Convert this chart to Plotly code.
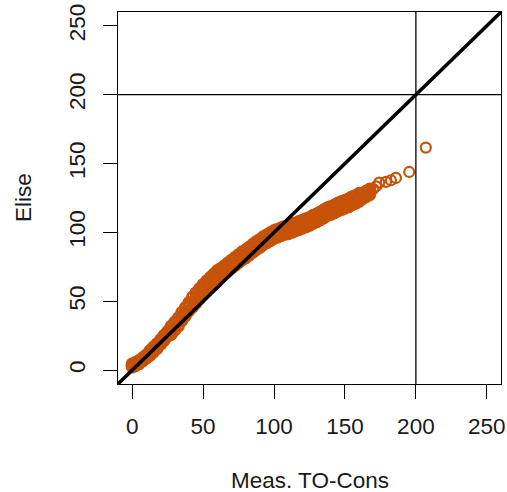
import plotly.graph_objects as go

# ---- data ----
meas_grid = [0, 2.5, 5, 7.5, 10, 12.5, 15, 17.5, 20, 22.5, 25, 27.5, 30, 32.5, 35, 37.5,
             40, 42.5, 45, 47.5, 50, 52.5, 55, 57.5, 60, 62.5, 65, 67.5, 70, 72.5, 75,
             77.5, 80, 82.5, 85, 87.5, 90, 92.5, 95, 97.5, 100, 102.5, 105, 107.5, 110,
             112.5, 115, 117.5, 120, 122.5, 125, 127.5, 130, 132.5, 135, 137.5, 140,
             142.5, 145, 147.5, 150, 152.5, 155, 157.5, 160, 162.5, 165, 167.5]
elise_low = [2.3, 3.3, 4.8, 6.8, 8.8, 10.7, 13.2, 15.7, 18.7, 21.7, 24.7, 26, 29, 32, 36,
             39.5, 43, 45.7, 48.7, 51.7, 54.7, 57.2, 59.7, 62.2, 64.7, 68.1, 70.1, 72.1,
             74.1, 76.1, 78.1, 80.1, 81.6, 83.6, 85.6, 87.6, 89.1, 91.1, 92.6, 94.1, 95.6,
             96.6, 97.6, 98.6, 99.1, 100.1, 101.1, 102.1, 103.1, 104.1, 105.1, 106.6,
             107.6, 109.1, 110.6, 112.1, 113.1, 114.1, 115.6, 116.6, 117.6, 118.6, 120.1,
             121.1, 122.6, 124.5, 126, 127.5]
elise_mid = [3.5, 4.5, 6, 8, 10, 12.5, 15, 17.5, 20.5, 23.5, 26.5, 29, 32, 35, 39, 42.5,
             46, 49.5, 52.5, 55.5, 58.5, 61, 63.5, 66, 68.5, 71, 73, 75, 77, 79, 81, 83,
             84.5, 86.5, 88.5, 90.5, 92, 94, 95.5, 97, 98.5, 99.5, 100.5, 101.5, 102, 103,
             104, 105, 106, 107, 108, 109.5, 110.5, 112, 113.5, 115, 116, 117, 118.5,
             119.5, 120.5, 121.5, 123, 124, 125.5, 126.5, 128, 129.5]
elise_high = [4.7, 5.7, 7.2, 9.2, 11.2, 14.3, 16.8, 19.3, 22.3, 25.3, 28.3, 32, 35, 38, 42,
              45.5, 49, 53.3, 56.3, 59.3, 62.3, 64.8, 67.3, 69.8, 72.3, 73.9, 75.9, 77.9,
              79.9, 81.9, 83.9, 85.9, 87.4, 89.4, 91.4, 93.4, 94.9, 96.9, 98.4, 99.9,
              101.4, 102.4, 103.4, 104.4, 104.9, 105.9, 106.9, 107.9, 108.9, 109.9,
              110.9, 112.4, 113.4, 114.9, 116.4, 117.9, 118.9, 119.9, 121.4, 122.4,
              123.4, 124.4, 125.9, 126.9, 128.4, 128.5, 130, 131.5]
meas_tail = [170, 172, 174.2, 178.9, 182.4, 185.9, 195.3, 207]
elise_tail = [131.5, 133.5, 136.2, 136.7, 137.9, 139.6, 143.9, 161.6]

tick_vals = [0, 50, 100, 150, 200, 250]
axis_range = [-10, 260]
ref_level = 200
x_title = "Meas. TO-Cons"
y_title = "Elise"

ORANGE = "#C75308"
FONT = "Liberation Sans, Arial, sans-serif"
FS = 22.5
TXT = "#1a1a1a"

fig = go.Figure()
# dense body of points
fig.add_trace(go.Scatter(
    x=meas_grid * 3, y=elise_low + elise_mid + elise_high, mode="markers",
    marker=dict(symbol="circle-open", size=10, color=ORANGE, line=dict(width=3, color=ORANGE)),
    showlegend=False, hoverinfo="skip",
))
# sparse upper tail
fig.add_trace(go.Scatter(
    x=meas_tail, y=elise_tail, mode="markers",
    marker=dict(symbol="circle-open", size=10, color=ORANGE, line=dict(width=2.2, color=ORANGE)),
    showlegend=False, hoverinfo="skip",
))

# reference lines: identity, and 200 thresholds
fig.add_shape(type="line", xref="x", yref="y", x0=axis_range[0], y0=axis_range[0],
              x1=axis_range[1], y1=axis_range[1], line=dict(color="black", width=3.5))
fig.add_shape(type="line", xref="paper", yref="y", x0=0, x1=1, y0=ref_level, y1=ref_level,
              line=dict(color="black", width=1.3))
fig.add_shape(type="line", xref="x", yref="paper", x0=ref_level, x1=ref_level, y0=0, y1=1,
              line=dict(color="black", width=1.3))

axis_common = dict(
    range=axis_range, tickvals=tick_vals, ticktext=[str(v) for v in tick_vals],
    showgrid=False, zeroline=False, showline=True, mirror=True,
    linecolor="black", linewidth=1.3, ticks="outside", ticklen=14, tickwidth=1.3,
    tickcolor="black", tickfont=dict(family=FONT, size=FS, color=TXT),
    fixedrange=True, automargin=False,
)

fig.update_layout(
    width=507, height=492,
    margin=dict(l=118, r=6, t=12, b=108, autoexpand=False),
    paper_bgcolor="white", plot_bgcolor="white",
    font=dict(family=FONT, size=FS, color=TXT),
    xaxis=dict(**axis_common, ticklabelstandoff=8),
    yaxis=dict(**axis_common, tickangle=-90, ticklabelstandoff=9),
    annotations=[
        dict(text=x_title, xref="paper", yref="paper", x=0.5, y=0, xanchor="center",
             yanchor="middle", yshift=-96, showarrow=False, font=dict(family=FONT, size=FS, color=TXT)),
        dict(text=y_title, xref="paper", yref="paper", x=0, y=0.5, xanchor="center",
             yanchor="middle", xshift=-95, textangle=-90, showarrow=False,
             font=dict(family=FONT, size=FS, color=TXT)),
    ],
)

fig.write_html("out.html")
